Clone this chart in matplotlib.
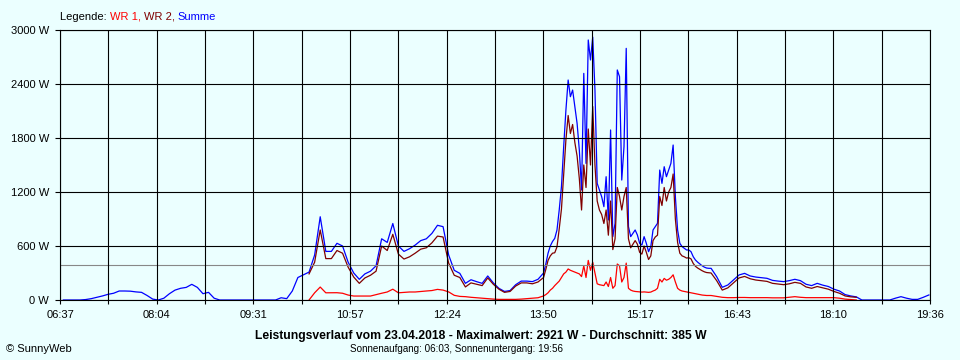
import matplotlib
matplotlib.use("Agg")
import matplotlib.pyplot as plt
import numpy as np

nan = np.nan

# Zeitachse (Minuten seit Mitternacht)
t_start = 6 * 60 + 37
t_end = 19 * 60 + 36
tick_labels = ["06:37", "08:04", "09:31", "10:57", "12:24",
               "13:50", "15:17", "16:43", "18:10", "19:36"]
y_ticks = [0, 600, 1200, 1800, 2400, 3000]
mittelwert = 385

# --- Vormittag, 5-Minuten-Werte 06:40 - 13:45 ---
t_vormittag = np.arange(6 * 60 + 40, 13 * 60 + 46, 5)
summe_vormittag = [
    0, 0, 0, 0,
    5, 15, 30, 45, 63, 75, 100, 100, 98, 90, 85, 50,
    10, 0, 20, 70, 110, 130, 140, 174, 140, 70, 85, 20,
    0, 0, 0, 0, 0, 0, 0, 0, 0, 0, 0, 25,
    15, 100, 250, 280, 310, 500, 925, 540, 540, 630, 600, 420,
    300, 230, 290, 320, 380, 680, 640, 850, 600, 540, 570, 610,
    660, 680, 740, 830, 815, 500, 330, 296, 185, 225, 204, 185,
    267, 190, 130, 95, 105, 170, 210, 210, 204, 230,
]
wr1_vormittag = [nan] * 44 + [
    0, 80, 144, 80, 81, 81, 75, 55,
    44, 44, 44, 44, 60, 75, 89, 120, 80, 85, 89, 89,
    95, 100, 105, 118, 110, 90, 52, 40, 37, 30, 25, 20,
    15, 10, 7, 7, 7, 7, 10, 15, 20, 25,
]
wr2_vormittag = [nan] * 44 + [
    290, 420, 778, 460, 460, 550, 520, 365,
    255, 185, 245, 275, 320, 600, 550, 730, 510, 455, 480, 520,
    565, 580, 635, 710, 700, 410, 275, 250, 145, 190, 175, 160,
    245, 175, 120, 85, 95, 155, 190, 190, 180, 200,
]

# --- Mittag, 2-Minuten-Werte 13:50 - 16:18 ---
t_mittag = np.arange(13 * 60 + 50, 16 * 60 + 19, 2)
summe_mittag = [
    300, 400, 520, 600, 650,
    685, 778, 1000, 1259, 1704, 2111, 2444, 2259, 2333, 2148,
    1963, 1667, 1222, 2518, 1518, 2889, 2667, 2921, 2333, 1296,
    1222, 1148, 1037, 1370, 889, 1889, 704, 852, 2556, 2481,
    1333, 1704, 2796, 815, 704, 741, 778, 722, 630, 611,
    704, 630, 537, 593, 778, 815, 852, 1444, 1296, 1481,
    1370, 1444, 1518, 1722, 1148, 778, 630, 593, 574, 556,
    556, 537, 481, 444, 420, 400, 380, 365, 355, 352,
]
wr1_mittag = [
    45, 60, 80, 110, 130,
    160, 185, 210, 250, 290, 310, 345, 330, 320, 310,
    300, 290, 260, 380, 250, 440, 330, 420, 300, 180,
    170, 165, 160, 200, 150, 250, 130, 160, 400, 380,
    200, 250, 410, 130, 110, 100, 95, 93, 90, 88,
    90, 88, 85, 88, 100, 110, 130, 230, 200, 240,
    220, 230, 250, 280, 200, 130, 110, 100, 95, 90,
    85, 80, 75, 70, 65, 60, 55, 52, 50, 50,
]
wr2_mittag = [
    250, 340, 440, 490, 520,
    525, 590, 790, 1010, 1400, 1780, 2050, 1850, 1950, 1750,
    1600, 1350, 1000, 1500, 1250, 1900, 1500, 2150, 1500, 1100,
    1000, 950, 850, 1000, 720, 1100, 560, 680, 1250, 1150,
    1000, 1150, 1250, 680, 580, 620, 660, 620, 530, 510,
    600, 530, 450, 490, 660, 700, 720, 1150, 1050, 1250,
    1100, 1200, 1250, 1400, 900, 640, 520, 490, 480, 466,
    470, 457, 406, 374, 355, 340, 325, 313, 305, 302,
]

# --- Nachmittag, 5-Minuten-Werte 16:20 - 19:35 ---
t_abend = np.arange(16 * 60 + 20, 19 * 60 + 36, 5)
summe_abend = [
    352, 259, 141, 167, 222, 278, 296, 267,
    255, 248, 241, 218, 210, 204, 215, 230, 215, 175, 160, 185,
    165, 150, 120, 100, 60, 45, 35, 0, 0, 0, 0, 0,
    0, 20, 37, 20, 7, 7, 30, 56,
]
wr1_abend = [
    50, 40, 30, 26, 26, 28, 28, 26,
    26, 26, 26, 24, 24, 24, 30, 37, 30, 26, 26, 26,
    26, 26, 26, 20, 10, 5, 0,
] + [nan] * 13
wr2_abend = [
    300, 215, 110, 135, 190, 245, 262, 236,
    222, 215, 207, 185, 178, 170, 180, 196, 185, 145, 130, 150,
    135, 120, 95, 75, 45, 35, 30,
] + [nan] * 13

t = np.concatenate([t_vormittag, t_mittag, t_abend])
summe = np.array(summe_vormittag + summe_mittag + summe_abend, dtype=float)
wr1 = np.array(wr1_vormittag + wr1_mittag + wr1_abend, dtype=float)
wr2 = np.array(wr2_vormittag + wr2_mittag + wr2_abend, dtype=float)

bg = "#EBFFFF"
c_wr1 = "#FF0000"
c_wr2 = "#800000"
c_sum = "#0000FF"
font = ["Liberation Sans", "DejaVu Sans"]

fig = plt.figure(figsize=(9.6, 3.6), dpi=100, facecolor=bg)
ax = fig.add_axes([60 / 960, 60 / 360, 870 / 960, 270 / 360])
ax.set_facecolor(bg)

ax.plot(t, summe, color=c_sum, lw=0.9, zorder=2)
ax.plot(t, wr2, color=c_wr2, lw=0.9, zorder=2.1)
ax.plot(t, wr1, color=c_wr1, lw=0.9, zorder=2.2)
ax.axhline(mittelwert, color="#888888", lw=0.8, zorder=2.3)

ax.set_xlim(t_start, t_end)
ax.set_ylim(0, 3000)

grid_x = np.linspace(t_start, t_end, 2 * (len(tick_labels) - 1) + 1)
ax.set_xticks(grid_x[::2])
ax.set_xticklabels(tick_labels, family=font, fontsize=8)
ax.set_xticks(grid_x[1::2], minor=True)
ax.set_yticks(y_ticks)
ax.set_yticklabels([f"{v} W" for v in y_ticks], family=font, fontsize=8)

ax.set_axisbelow(False)
ax.grid(True, which="both", color="black", lw=0.8, zorder=3)
ax.tick_params(axis="x", which="both", color="black", width=0.8,
               length=3.2, pad=3.8, labelcolor="black")
ax.tick_params(axis="y", which="both", color="black", width=0.8,
               length=3.6, pad=4.2, labelcolor="black")
for s in ax.spines.values():
    s.set_color("black")
    s.set_linewidth(0.8)
    s.set_zorder(3)

# Legende oben links, mehrfarbig
renderer = fig.canvas.get_renderer()
x0 = 60 / 960
y0 = 1 - 20.5 / 360
parts = [("Legende: ", "black"), ("WR 1", c_wr1), (", ", c_wr1),
         ("WR 2", c_wr2), (", ", c_wr2), ("Summe", c_sum)]
for txt, col in parts:
    tx = fig.text(x0, y0, txt, color=col, fontsize=8, family=font,
                  va="baseline", ha="left")
    w = tx.get_window_extent(renderer).width
    x0 += w / 960

fig.text(481 / 960, 1 - 336 / 360,
         "Leistungsverlauf vom 23.04.2018 - Maximalwert: 2921 W - Durchschnitt: 385 W",
         ha="center", va="center", fontsize=8.7, fontweight="bold", family=font)
fig.text(456 / 960, 1 - 348.5 / 360,
         "Sonnenaufgang: 06:03, Sonnenuntergang: 19:56",
         ha="center", va="center", fontsize=7.1, family=font)
fig.text(6 / 960, 1 - 349 / 360, "\u00a9 SunnyWeb",
         ha="left", va="center", fontsize=8, family=font)

fig.savefig("out.png", dpi=100, facecolor=bg)
